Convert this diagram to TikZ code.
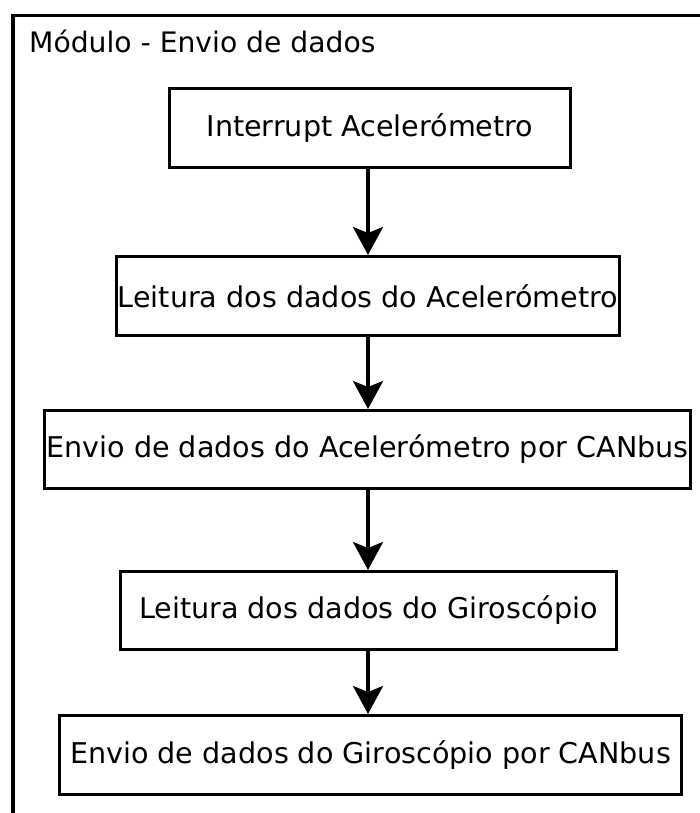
\documentclass[tikz,border=0pt]{standalone}
\usepackage{fontspec}
\setmainfont{DejaVu Sans}
\usetikzlibrary{arrows.meta}
\begin{document}
\begin{tikzpicture}[x=1pt,y=-1pt,
  stepbox/.style={draw,line width=3pt,rectangle,inner sep=0pt,font=\fontsize{28.6}{34}\selectfont},
  flow/.style={line width=3.5pt,-{Stealth[length=28pt,width=30pt,inset=6pt]}}]
\useasboundingbox (0,0) rectangle (700,813);
\draw[line width=3.5pt] (13,813) -- (13,15.5) -- (700,15.5);
\node[anchor=base west,inner sep=0pt,font=\fontsize{28.2}{34}\selectfont] (title) at (29,53) {Módulo - Envio de dados};
\node[stepbox,minimum width=401pt,minimum height=79pt] (b1) at (370,128) {Interrupt Acelerómetro};
\node[stepbox,minimum width=503pt,minimum height=79pt] (b2) at (368,296) {Leitura dos dados do Acelerómetro};
\node[stepbox,minimum width=646pt,minimum height=78pt] (b3) at (367.5,449.5) {Envio de dados do Acelerómetro por CANbus};
\node[stepbox,minimum width=496pt,minimum height=78pt] (b4) at (368.5,610.5) {Leitura dos dados do Giroscópio};
\node[stepbox,minimum width=622pt,minimum height=79pt] (b5) at (370.5,755) {Envio de dados do Giroscópio por CANbus};
\draw[flow] (b1.south -| 368,0) -- (b2.north -| 368,0);
\draw[flow] (b2.south -| 368,0) -- (b3.north -| 368,0);
\draw[flow] (b3.south -| 368,0) -- (b4.north -| 368,0);
\draw[flow] (b4.south -| 368,0) -- (b5.north -| 368,0);
\end{tikzpicture}
\end{document}
